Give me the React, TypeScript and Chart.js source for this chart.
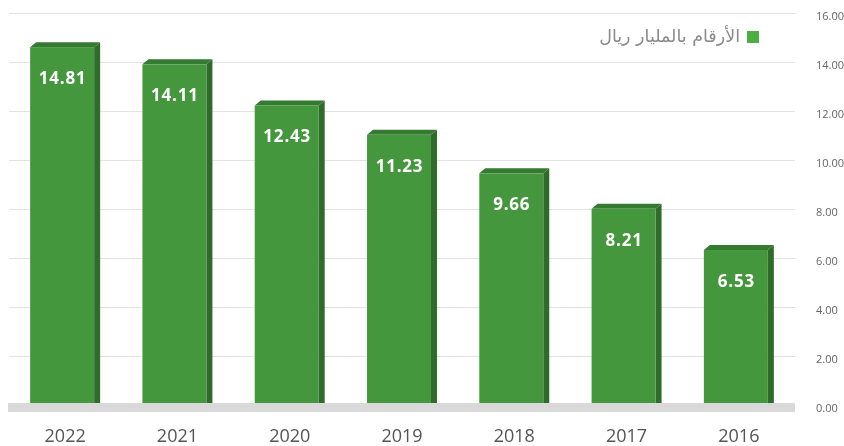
import React, { useEffect, useRef } from 'react';
import { Chart, registerables } from 'chart.js';

Chart.register(...registerables);

const categories = ['2022', '2021', '2020', '2019', '2018', '2017', '2016'];
const values = [14.81, 14.11, 12.43, 11.23, 9.66, 8.21, 6.53];
const seriesLabel = 'الأرقام بالمليار ريال';
const yMin = 0;
const yMax = 16;
const yStep = 2;

const FRONT = '#45973d';
const SIDE = '#2f6c2b';
const TOP = '#357a31';
const LEGEND_BOX = '#4cae42';
const FLOOR = '#d9d9d9';

const bars3d = {
  id: 'bars3d',
  afterDatasetsDraw(chart: any) {
    const ctx = chart.ctx;
    const area = chart.chartArea;
    const meta = chart.getDatasetMeta(0);
    const dx = 6;
    const dy = 5;
    const floorTop = area.bottom - 2;
    ctx.save();
    meta.data.forEach((el: any, i: number) => {
      const p = el.getProps(['x', 'y', 'base', 'width'], true);
      const left = p.x - p.width / 2;
      const right = p.x + p.width / 2;
      const fr = right - dx;
      const top = p.y;
      // side
      ctx.fillStyle = SIDE;
      ctx.beginPath();
      ctx.moveTo(fr, top + dy);
      ctx.lineTo(right, top);
      ctx.lineTo(right, floorTop);
      ctx.lineTo(fr, floorTop + 2);
      ctx.closePath();
      ctx.fill();
      // top
      ctx.fillStyle = TOP;
      ctx.beginPath();
      ctx.moveTo(left, top + dy);
      ctx.lineTo(left + dx, top);
      ctx.lineTo(right, top);
      ctx.lineTo(fr, top + dy);
      ctx.closePath();
      ctx.fill();
      // front
      ctx.fillStyle = FRONT;
      ctx.fillRect(left, top + dy, fr - left, floorTop - (top + dy) + 2);
      // label
      ctx.fillStyle = '#ffffff';
      ctx.font = 'bold 17px "Open Sans", sans-serif';
      ctx.textAlign = 'center';
      ctx.textBaseline = 'middle';
      try { (ctx as any).letterSpacing = '0.8px'; } catch (e) {}
      ctx.fillText(values[i].toFixed(2), (left + fr) / 2 + 0.5, top + 37);
      try { (ctx as any).letterSpacing = '0px'; } catch (e) {}
    });
    // floor
    ctx.fillStyle = FLOOR;
    ctx.fillRect(area.left - 1, floorTop, area.right - area.left + 1, 9);
    // legend (rtl: box on the right)
    const boxX = 747;
    const boxY = 31;
    ctx.fillStyle = LEGEND_BOX;
    ctx.fillRect(boxX, boxY, 12, 12);
    ctx.fillStyle = '#8a8a8a';
    ctx.font = '17.5px "DejaVu Sans", sans-serif';
    ctx.textAlign = 'right';
    ctx.textBaseline = 'middle';
    ctx.direction = 'rtl';
    ctx.fillText(seriesLabel, boxX - 7, boxY + 6);
    ctx.restore();
  },
};

export default function App() {
  const ref = useRef<HTMLCanvasElement>(null);
  useEffect(() => {
    if (!ref.current) return;
    const chart = new Chart(ref.current, {
      type: 'bar',
      data: {
        labels: categories,
        datasets: [
          {
            label: seriesLabel,
            data: values,
            backgroundColor: 'rgba(0,0,0,0)',
            borderWidth: 0,
            barPercentage: 1,
            categoryPercentage: 70 / 112.33,
          },
        ],
      },
      options: {
        responsive: false,
        animation: false,
        layout: { padding: { left: 9, top: 13, right: 0, bottom: 0 } },
        plugins: {
          legend: { display: false },
          tooltip: { enabled: false },
        },
        scales: {
          x: {
            grid: { display: false, drawTicks: false },
            border: { display: false },
            ticks: {
              color: '#555555',
              font: { family: '"Open Sans", sans-serif', size: 18 },
              padding: 21,
            },
            afterFit(scale: any) {
              scale.height = 41;
            },
          },
          y: {
            position: 'right',
            min: yMin,
            max: yMax,
            grid: { color: '#e3e3e3', drawTicks: false, lineWidth: 1 },
            border: { display: false },
            ticks: {
              stepSize: yStep,
              color: '#666666',
              font: { family: '"Open Sans", sans-serif', size: 11 },
              padding: 21,
              labelOffset: 3.5,
              callback: (v: any) => Number(v).toFixed(2),
            },
            afterFit(scale: any) {
              scale.width = 49;
              scale.paddingTop = 0;
            },
          },
        },
      },
      plugins: [bars3d],
    });
    return () => chart.destroy();
  }, []);
  return (
    <div style={{ position: 'fixed', left: 0, top: 0, width: 844, height: 446, background: '#fff' }}>
      <canvas ref={ref} width={844} height={446} style={{ display: 'block' }} />
    </div>
  );
}
